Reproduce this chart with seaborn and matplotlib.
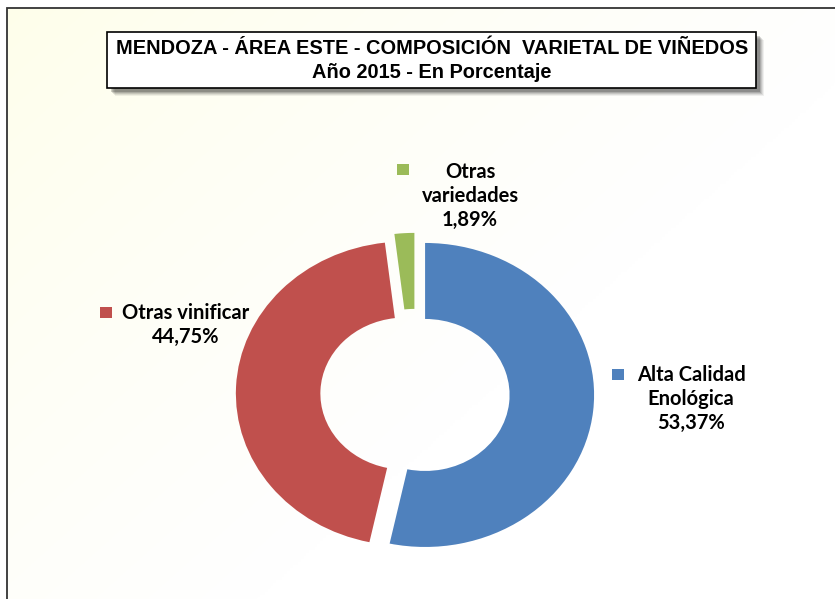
import numpy as np
import matplotlib
matplotlib.use("Agg")
import matplotlib.pyplot as plt
from matplotlib.patches import Rectangle
import seaborn as sns

# ---------------------------------------------------------
# Data
# ---------------------------------------------------------

categories = ["Alta Calidad\nEnológica", "Otras vinificar", "Otras\nvariedades"]
shares = [53.37, 44.75, 1.89]
share_labels = ["53,37%", "44,75%", "1,89%"]
title_lines = [
    "MENDOZA - ÁREA ESTE - COMPOSICIÓN  VARIETAL DE VIÑEDOS",
    "Año 2015 - En Porcentaje",
]

colors = sns.color_palette(["#4F81BD", "#C0504D", "#9BBB59"])

# ---------------------------------------------------------
# Figure
# ---------------------------------------------------------

sns.set_theme(style="white")
plt.rcParams["font.family"] = ["DejaVu Sans"]

W, H = 835, 599
fig = plt.figure(figsize=(W / 100, H / 100), dpi=100)
fig.patch.set_facecolor("white")


def fx(x):
    return x / W


def fy(y):
    return 1 - y / H


# background gradient inside the chart border
bg = fig.add_axes([fx(7), 0, 1 - fx(7), fy(8)])
yy, xx = np.mgrid[0:1:200j, 0:1:300j]
t = np.clip((xx * 1.0 + yy * 0.8) / 1.1, 0, 1) ** 0.8
top = np.array([254, 254, 234]) / 255
end = np.array([255, 255, 255]) / 255
img = top[None, None, :] * (1 - t[..., None]) + end[None, None, :] * t[..., None]
bg.imshow(img, aspect="auto", extent=[0, 1, 0, 1], origin="upper")
bg.set_xlim(0, 1)
bg.set_ylim(0, 1)
bg.axis("off")

# chart border (left and top visible)
fig.add_artist(Rectangle((fx(7), -0.1), 1.2, fy(8) + 0.1,
                         transform=fig.transFigure, fill=False,
                         edgecolor="#333333", linewidth=1.3))

# ---------------------------------------------------------
# Donut
# ---------------------------------------------------------

cx, cy, rx, ry = 415, 394, 169, 152
lim = 1.3
ax = fig.add_axes([fx(cx - lim * rx), fy(cy + lim * ry),
                   2 * lim * rx / W, 2 * lim * ry / H])
ax.pie(
    shares,
    colors=colors,
    startangle=90,
    counterclock=False,
    explode=[0.06] * len(shares),
    wedgeprops=dict(width=0.5, edgecolor="none"),
)
ax.set_aspect("auto")
ax.set_xlim(-lim, lim)
ax.set_ylim(-lim, lim)
ax.axis("off")

# ---------------------------------------------------------
# Title box
# ---------------------------------------------------------

bx0, by0, bx1, by1 = 107, 32, 756, 88
for k, a in enumerate([0.06, 0.08, 0.10, 0.13, 0.18]):
    off = 8 - k
    fig.add_artist(Rectangle((fx(bx0 + off), fy(by1 + off)),
                             (bx1 - bx0) / W, (by1 - by0) / H,
                             transform=fig.transFigure, facecolor="black",
                             edgecolor="none", alpha=a))
fig.add_artist(Rectangle((fx(bx0), fy(by1)), (bx1 - bx0) / W, (by1 - by0) / H,
                         transform=fig.transFigure, facecolor="white",
                         edgecolor="black", linewidth=1.2))

title_font = ["Liberation Sans Narrow", "Liberation Sans", "DejaVu Sans"]
fig.text(fx(432), fy(48), title_lines[0], ha="center", va="center",
         fontsize=14.4, fontweight="bold", family=title_font, color="black")
fig.text(fx(432), fy(73), title_lines[1], ha="center", va="center",
         fontsize=14.4, fontweight="bold", family=title_font, color="black")

# ---------------------------------------------------------
# Data labels
# ---------------------------------------------------------

label_font = ["Lato", "DejaVu Sans"]
label_pos = [(691, 375), (186, 313), (470, 172)]
key_pos = [(612, 369), (100, 307), (397, 164)]
line_h = 24

for i, name in enumerate(categories):
    lines = name.split("\n") + [share_labels[i]]
    x, y = label_pos[i]
    for j, line in enumerate(lines):
        fig.text(fx(x), fy(y + j * line_h), line, ha="center", va="center",
                 fontsize=14.5, fontweight="bold", family=label_font,
                 color="black")
    kx, ky = key_pos[i]
    fig.add_artist(Rectangle((fx(kx), fy(ky + 11)), 12 / W, 11 / H,
                             transform=fig.transFigure,
                             facecolor=colors[i], edgecolor="none"))

plt.savefig("out.png", dpi=100)
plt.close()
